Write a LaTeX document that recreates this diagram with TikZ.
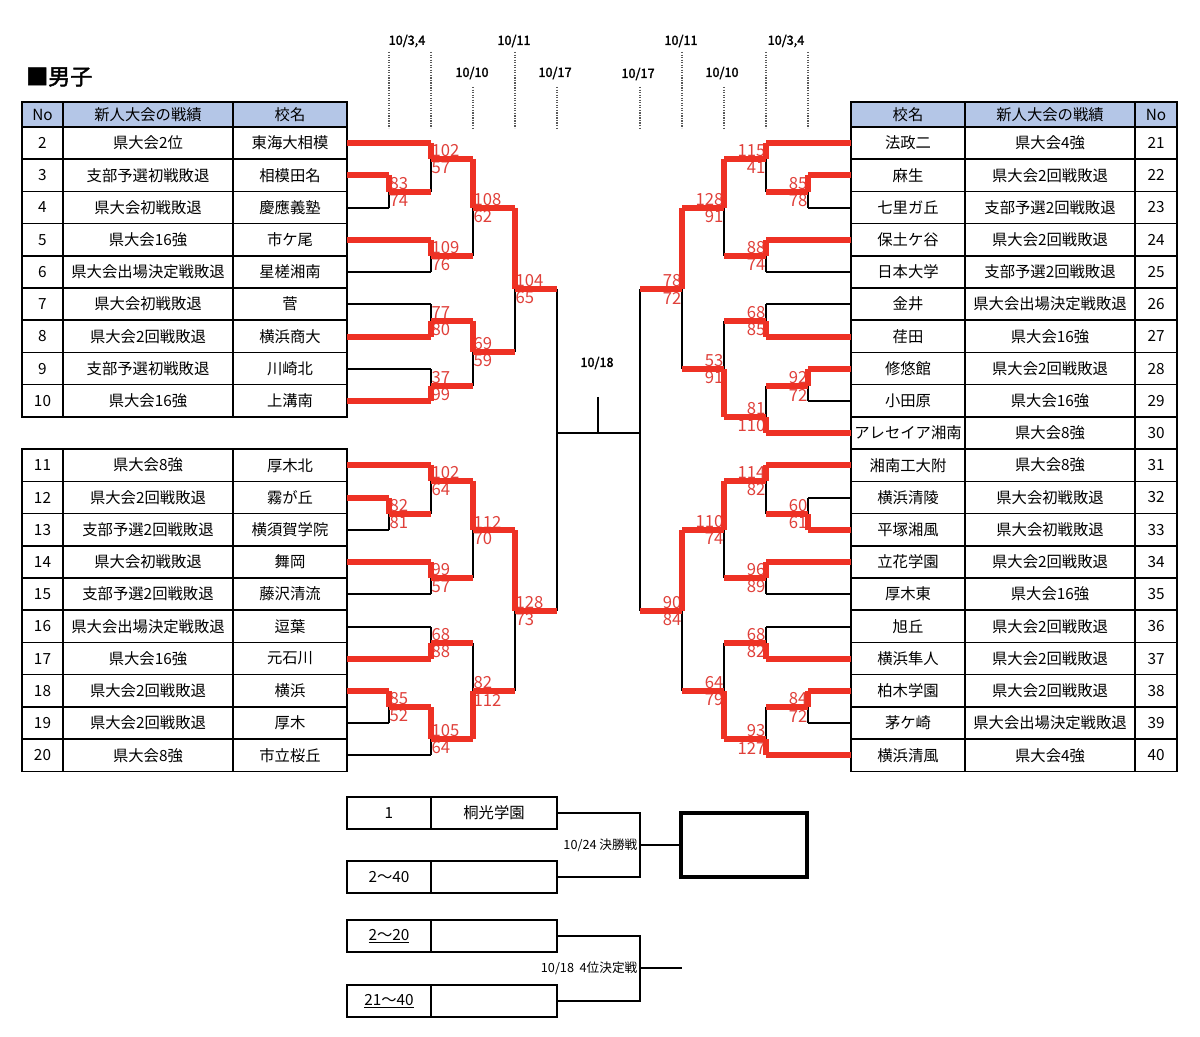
\documentclass[tikz,border=0pt]{standalone}
\usepackage{fontspec}
\setmainfont{Noto Sans CJK JP}
\newfontfamily\cjkbold[FakeBold=2]{Noto Sans CJK JP}
\usetikzlibrary{calc}
\pgfdeclarelayer{fg}
\pgfsetlayers{main,fg}
\definecolor{rl}{HTML}{EE3124}
\definecolor{rt}{HTML}{E0403A}
\definecolor{hb}{HTML}{B4C6E7}
\tikzset{
  blk/.style={line width=1.3pt,black},
  redl/.style={line width=3.8pt,rl},
  cell/.style={draw,line width=1.1pt},
  txt/.style={font=\fontsize{11.5}{13}\selectfont,inner sep=0pt},
  sc/.style={font=\fontsize{12.5}{13}\selectfont,text=rt,inner sep=1pt},
  dt/.style={font=\cjkbold\fontsize{9.5}{11}\selectfont,inner sep=0pt},
  dl/.style={gray!70!black,line width=0.9pt,densely dotted},
}
\newcommand{\Hl}[4]{%
  \ifx r#4\begin{pgfonlayer}{fg}\draw[redl] (#1,#3)--(#2,#3);\end{pgfonlayer}%
  \else\draw[blk] (#1,#3)--(#2,#3);\fi}
% x ytop ybot yjoin winner(0 top/1 bot) stop sbot side
\newcommand{\M}[8]{%
  \draw[blk] (#1,#2)--(#1,#3);
  \begin{pgfonlayer}{fg}
  \ifnum#5=0 \draw[redl] (#1,#2)--(#1,#4);\else\draw[redl] (#1,#3)--(#1,#4);\fi
  \end{pgfonlayer}
  \ifx l#8
   \node[sc,anchor=west] (s#1a#4) at (#1-1,#4-8) {#6};
   \node[sc,anchor=west] (s#1b#4) at (#1-1,#4+9) {#7};
  \else
   \node[sc,anchor=east] (s#1a#4) at (#1+1,#4-8) {#6};
   \node[sc,anchor=east] (s#1b#4) at (#1+1,#4+9) {#7};
  \fi}
\newcommand{\lrow}[4]{%
  \pgfmathsetmacro{\cy}{143+#1*32.222}
  \draw[cell] (22,\cy-16.11) rectangle (63,\cy+16.11);
  \draw[cell] (63,\cy-16.11) rectangle (233,\cy+16.11);
  \draw[cell] (233,\cy-16.11) rectangle (347,\cy+16.11);
  \node[txt] (ln#2) at (42.5,\cy) {#2};
  \node[txt] (lr#2) at (148,\cy) {#3};
  \node[txt] (ls#2) at (290,\cy) {#4};}
\newcommand{\rrow}[4]{%
  \pgfmathsetmacro{\cy}{143+#1*32.222}
  \draw[cell] (851,\cy-16.11) rectangle (965,\cy+16.11);
  \draw[cell] (965,\cy-16.11) rectangle (1135,\cy+16.11);
  \draw[cell] (1135,\cy-16.11) rectangle (1177,\cy+16.11);
  \node[txt] (rn#2) at (1156,\cy) {#2};
  \node[txt] (rr#2) at (1050,\cy) {#3};
  \node[txt] (rs#2) at (908,\cy) {#4};}
\begin{document}
\begin{tikzpicture}[x=0.75pt,y=-0.75pt]
\useasboundingbox (0,0) rectangle (1200,1037);
\fill[white] (0,0) rectangle (1200,1037);
\node[font=\cjkbold\fontsize{16.5}{18}\selectfont,anchor=west,inner sep=0pt] (title) at (26,77) {■男子};
% dates
\foreach \x in {389,431,515,682,766,808} \draw[dl] (\x,52)--(\x,128);
\foreach \x in {473,557,640,724} \draw[dl] (\x,87)--(\x,128);
\node[dt] (d1) at (407,41) {10/3,4};
\node[dt] (d2) at (514,41) {10/11};
\node[dt] (d3) at (472,73) {10/10};
\node[dt] (d4) at (555,73) {10/17};
\node[dt] (d5) at (638,74) {10/17};
\node[dt] (d6) at (681,41) {10/11};
\node[dt] (d7) at (722,73) {10/10};
\node[dt] (d8) at (786,41) {10/3,4};
% headers
\draw[cell,fill=hb] (22,102) rectangle (63,127);
\draw[cell,fill=hb] (63,102) rectangle (233,127);
\draw[cell,fill=hb] (233,102) rectangle (347,127);
\node[txt] (lh1) at (42.5,114.5) {No};
\node[txt] (lh2) at (148,114.5) {新人大会の戦績};
\node[txt] (lh3) at (290,114.5) {校名};
\draw[cell,fill=hb] (851,102) rectangle (965,127);
\draw[cell,fill=hb] (965,102) rectangle (1135,127);
\draw[cell,fill=hb] (1135,102) rectangle (1177,127);
\node[txt] (rh1) at (1156,114.5) {No};
\node[txt] (rh2) at (1050,114.5) {新人大会の戦績};
\node[txt] (rh3) at (908,114.5) {校名};
% left table
\lrow{0}{2}{県大会2位}{東海大相模}
\lrow{1}{3}{支部予選初戦敗退}{相模田名}
\lrow{2}{4}{県大会初戦敗退}{慶應義塾}
\lrow{3}{5}{県大会16強}{市ケ尾}
\lrow{4}{6}{県大会出場決定戦敗退}{星槎湘南}
\lrow{5}{7}{県大会初戦敗退}{菅}
\lrow{6}{8}{県大会2回戦敗退}{横浜商大}
\lrow{7}{9}{支部予選初戦敗退}{川崎北}
\lrow{8}{10}{県大会16強}{上溝南}
\lrow{10}{11}{県大会8強}{厚木北}
\lrow{11}{12}{県大会2回戦敗退}{霧が丘}
\lrow{12}{13}{支部予選2回戦敗退}{横須賀学院}
\lrow{13}{14}{県大会初戦敗退}{舞岡}
\lrow{14}{15}{支部予選2回戦敗退}{藤沢清流}
\lrow{15}{16}{県大会出場決定戦敗退}{逗葉}
\lrow{16}{17}{県大会16強}{元石川}
\lrow{17}{18}{県大会2回戦敗退}{横浜}
\lrow{18}{19}{県大会2回戦敗退}{厚木}
\lrow{19}{20}{県大会8強}{市立桜丘}
% right table
\rrow{0}{21}{県大会4強}{法政二}
\rrow{1}{22}{県大会2回戦敗退}{麻生}
\rrow{2}{23}{支部予選2回戦敗退}{七里ガ丘}
\rrow{3}{24}{県大会2回戦敗退}{保土ケ谷}
\rrow{4}{25}{支部予選2回戦敗退}{日本大学}
\rrow{5}{26}{県大会出場決定戦敗退}{金井}
\rrow{6}{27}{県大会16強}{荏田}
\rrow{7}{28}{県大会2回戦敗退}{修悠館}
\rrow{8}{29}{県大会16強}{小田原}
\rrow{9}{30}{県大会8強}{アレセイア湘南}
\rrow{10}{31}{県大会8強}{湘南工大附}
\rrow{11}{32}{県大会初戦敗退}{横浜清陵}
\rrow{12}{33}{県大会初戦敗退}{平塚湘風}
\rrow{13}{34}{県大会2回戦敗退}{立花学園}
\rrow{14}{35}{県大会16強}{厚木東}
\rrow{15}{36}{県大会2回戦敗退}{旭丘}
\rrow{16}{37}{県大会2回戦敗退}{横浜隼人}
\rrow{17}{38}{県大会2回戦敗退}{柏木学園}
\rrow{18}{39}{県大会出場決定戦敗退}{茅ケ崎}
\rrow{19}{40}{県大会4強}{横浜清風}
% left top bracket
\Hl{347}{389}{175}{r}\Hl{347}{389}{208}{k}\M{389}{175}{208}{192}{0}{83}{74}{l}
\Hl{347}{431}{143}{r}\Hl{389}{431}{192}{r}\M{431}{143}{192}{159}{0}{102}{57}{l}
\Hl{347}{431}{240}{r}\Hl{347}{431}{272}{k}\M{431}{240}{272}{256}{0}{109}{76}{l}
\Hl{431}{473}{159}{r}\Hl{431}{473}{256}{r}\M{473}{159}{256}{208}{0}{108}{62}{l}
\Hl{347}{431}{304}{k}\Hl{347}{431}{337}{r}\M{431}{304}{337}{321}{1}{77}{80}{l}
\Hl{347}{431}{369}{k}\Hl{347}{431}{401}{r}\M{431}{369}{401}{386}{1}{37}{99}{l}
\Hl{431}{473}{321}{r}\Hl{431}{473}{386}{r}\M{473}{321}{386}{352}{0}{69}{59}{l}
\Hl{473}{515}{208}{r}\Hl{473}{515}{352}{r}\M{515}{208}{352}{289}{0}{104}{65}{l}
\Hl{515}{557}{289}{r}
% left bottom
\Hl{347}{389}{498}{r}\Hl{347}{389}{530}{k}\M{389}{498}{530}{514}{0}{82}{81}{l}
\Hl{347}{431}{465}{r}\Hl{389}{431}{514}{r}\M{431}{465}{514}{481}{0}{102}{64}{l}
\Hl{347}{431}{562}{r}\Hl{347}{431}{594}{k}\M{431}{562}{594}{578}{0}{99}{57}{l}
\Hl{431}{473}{481}{r}\Hl{431}{473}{578}{r}\M{473}{481}{578}{530}{0}{112}{70}{l}
\Hl{347}{431}{627}{k}\Hl{347}{431}{659}{r}\M{431}{627}{659}{643}{1}{68}{88}{l}
\Hl{347}{389}{691}{r}\Hl{347}{389}{723}{k}\M{389}{691}{723}{707}{0}{85}{52}{l}
\Hl{389}{431}{707}{r}\Hl{347}{431}{755}{k}\M{431}{707}{755}{739}{0}{105}{64}{l}
\Hl{431}{473}{643}{r}\Hl{431}{473}{739}{r}\M{473}{643}{739}{691}{1}{82}{112}{l}
\Hl{473}{515}{530}{r}\Hl{473}{515}{691}{r}\M{515}{530}{691}{611}{0}{128}{73}{l}
\Hl{515}{557}{611}{r}
% right top
\Hl{851}{808}{175}{r}\Hl{851}{808}{208}{k}\M{808}{175}{208}{192}{0}{85}{78}{r}
\Hl{851}{766}{143}{r}\Hl{808}{766}{192}{r}\M{766}{143}{192}{159}{0}{115}{41}{r}
\Hl{851}{766}{240}{r}\Hl{851}{766}{272}{k}\M{766}{240}{272}{256}{0}{88}{74}{r}
\Hl{766}{724}{159}{r}\Hl{766}{724}{256}{r}\M{724}{159}{256}{208}{0}{128}{91}{r}
\Hl{851}{766}{304}{k}\Hl{851}{766}{337}{r}\M{766}{304}{337}{321}{1}{68}{85}{r}
\Hl{851}{808}{369}{r}\Hl{851}{808}{401}{k}\M{808}{369}{401}{386}{0}{92}{72}{r}
\Hl{808}{766}{386}{r}\Hl{851}{766}{433}{r}\M{766}{386}{433}{417}{1}{81}{110}{r}
\Hl{766}{724}{321}{r}\Hl{766}{724}{417}{r}\M{724}{321}{417}{369}{1}{53}{91}{r}
\Hl{724}{682}{208}{r}\Hl{724}{682}{369}{r}\M{682}{208}{369}{289}{0}{78}{72}{r}
\Hl{682}{640}{289}{r}
% right bottom
\Hl{851}{808}{498}{k}\Hl{851}{808}{530}{r}\M{808}{498}{530}{514}{1}{60}{61}{r}
\Hl{851}{766}{465}{r}\Hl{808}{766}{514}{r}\M{766}{465}{514}{481}{0}{114}{82}{r}
\Hl{851}{766}{562}{r}\Hl{851}{766}{594}{k}\M{766}{562}{594}{578}{0}{96}{89}{r}
\Hl{766}{724}{481}{r}\Hl{766}{724}{578}{r}\M{724}{481}{578}{530}{0}{110}{74}{r}
\Hl{851}{766}{627}{k}\Hl{851}{766}{659}{r}\M{766}{627}{659}{643}{1}{68}{82}{r}
\Hl{851}{808}{691}{r}\Hl{851}{808}{723}{k}\M{808}{691}{723}{707}{0}{84}{72}{r}
\Hl{808}{766}{707}{r}\Hl{851}{766}{755}{r}\M{766}{707}{755}{739}{1}{93}{127}{r}
\Hl{766}{724}{643}{r}\Hl{766}{724}{739}{r}\M{724}{643}{739}{691}{1}{64}{79}{r}
\Hl{724}{682}{530}{r}\Hl{724}{682}{691}{r}\M{682}{530}{691}{611}{0}{90}{84}{r}
\Hl{682}{640}{611}{r}
% center
\draw[blk] (557,289)--(557,611);
\draw[blk] (640,289)--(640,611);
\draw[blk] (557,433)--(640,433);
\draw[blk] (598,397)--(598,433);
\node[dt] (c18) at (597,363) {10/18};
% bottom section
\foreach \y/\a/\b in {797/1/桐光学園, 861/2〜40/{}} {
  \draw[cell] (347,\y) rectangle (431,\y+32);
  \draw[cell] (431,\y) rectangle (557,\y+32);
  \node[txt] at (389,\y+16) {\a};
  \node[txt] at (494,\y+16) {\b};}
\foreach \y/\a in {920/2〜20, 985/21〜40} {
  \draw[cell] (347,\y) rectangle (431,\y+32);
  \draw[cell] (431,\y) rectangle (557,\y+32);
  \node[txt] at (389,\y+16) {\underline{\a}};}
\draw[blk] (557,813)--(640,813)--(640,877)--(557,877);
\draw[blk] (640,845)--(681,845);
\draw[line width=2.4pt] (681,813) rectangle (807,877);
\node[font=\fontsize{9.5}{11}\selectfont,anchor=east,inner sep=1pt] (f1) at (639,845) {10/24 決勝戦};
\draw[blk] (557,936)--(640,936)--(640,1001)--(557,1001);
\draw[blk] (640,968)--(682,968);
\node[font=\fontsize{9.5}{11}\selectfont,anchor=east,inner sep=1pt] (f2) at (639,968) {10/18\ \ 4位決定戦};
\end{tikzpicture}
\end{document}
